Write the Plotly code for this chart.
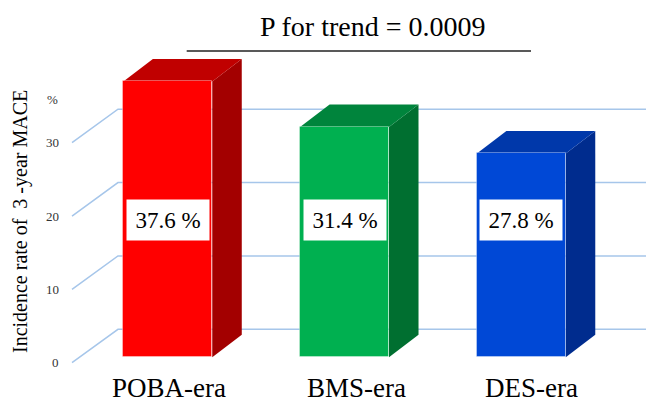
import plotly.graph_objects as go

# --- data -------------------------------------------------------------
eras = ["POBA-era", "BMS-era", "DES-era"]
mace_rate = [37.6, 31.4, 27.8]          # 3-year MACE incidence, %
y_ticks = [0, 10, 20, 30]
p_trend_text = "P for trend = 0.0009"

# --- styling ----------------------------------------------------------
front_col = ["#FF0000", "#00B050", "#0048D6"]
side_col = ["#A30000", "#006F30", "#002C8E"]
top_col = ["#C00000", "#00843C", "#0038AA"]
grid_col = "#A6C6EA"
serif = "Liberation Serif"

W, H = 646, 402
X_RANGE = [-0.9494, 2.7055]
Y_RANGE = [-6.094, 48.71]
BAR_W = 0.503
DX, DY = 0.167, 3.06            # oblique depth offset of each column
WALL_FRONT_X, WALL_BACK_X = -0.542, -0.282
GRID_FRONT_DY, GRID_BACK_DY = -0.74, 3.82
LABEL_Y = 18.7
CAT_SHIFT_PX = [1, 12, 10]      # category captions sit slightly right of centre

xs = list(range(len(eras)))

fig = go.Figure()

# front faces of the columns
fig.add_trace(go.Bar(
    x=xs, y=mace_rate, width=BAR_W,
    marker=dict(color=front_col, line=dict(color="rgba(255,255,255,0.35)", width=1)),
    hoverinfo="skip", showlegend=False,
))

shapes = []
# back-wall gridlines with their diagonal run along the left wall
for t in y_ticks:
    path = (f"M {WALL_FRONT_X},{t + GRID_FRONT_DY} "
            f"L {WALL_BACK_X},{t + GRID_BACK_DY} "
            f"L {X_RANGE[1]},{t + GRID_BACK_DY}")
    shapes.append(dict(type="path", path=path, xref="x", yref="y",
                       line=dict(color=grid_col, width=1.5), layer="below"))

# side and top faces of each column
for x, v, sc, tc in zip(xs, mace_rate, side_col, top_col):
    xl, xr = x - BAR_W / 2, x + BAR_W / 2
    side = (f"M {xr},0 L {xr + DX},{DY} L {xr + DX},{v + DY} L {xr},{v} Z")
    top = (f"M {xl},{v} L {xl + DX},{v + DY} L {xr + DX},{v + DY} L {xr},{v} Z")
    shapes.append(dict(type="path", path=side, xref="x", yref="y",
                       fillcolor=sc, line=dict(width=0), layer="below"))
    shapes.append(dict(type="path", path=top, xref="x", yref="y",
                       fillcolor=tc, line=dict(width=0), layer="below"))

# underline of the trend p-value
shapes.append(dict(type="line", xref="paper", yref="paper",
                   x0=0.289, x1=0.822, y0=1 - 51 / H, y1=1 - 51 / H,
                   line=dict(color="#222222", width=1.3)))

annotations = []
# value boxes
for x, v in zip(xs, mace_rate):
    annotations.append(dict(
        x=x, y=LABEL_Y, xref="x", yref="y", text=f"{v} %", showarrow=False,
        font=dict(family=serif, size=23, color="black"),
        bgcolor="white", borderpad=6, width=70, height=28,
    ))
# category labels
for x, name, sh in zip(xs, eras, CAT_SHIFT_PX):
    annotations.append(dict(
        x=x, y=-4.15, xref="x", yref="y", text=name, showarrow=False,
        xshift=sh, font=dict(family=serif, size=27, color="black"),
    ))
# y tick labels on the front edge of the wall
for t in y_ticks:
    annotations.append(dict(
        x=-0.604, y=t + GRID_FRONT_DY, xref="x", yref="y", text=str(t),
        showarrow=False, xanchor="right", yanchor="middle",
        font=dict(family=serif, size=13, color="#333333"),
    ))
annotations.append(dict(
    x=52 / W, y=1 - 100 / H, xref="paper", yref="paper", text="%",
    showarrow=False, xanchor="center", yanchor="middle",
    font=dict(family=serif, size=13, color="#333333"),
))
# axis title
annotations.append(dict(
    x=20 / W, y=1 - 222 / H, xref="paper", yref="paper",
    text="Incidence rate of  3 -year MACE", textangle=-90, showarrow=False,
    xanchor="center", yanchor="middle",
    font=dict(family=serif, size=20, color="black"),
))
# trend test
annotations.append(dict(
    x=373 / W, y=1 - 26 / H, xref="paper", yref="paper", text=p_trend_text,
    showarrow=False, xanchor="center", yanchor="middle",
    font=dict(family=serif, size=28, color="black"),
))

fig.update_layout(
    width=W, height=H, margin=dict(l=0, r=0, t=0, b=0),
    paper_bgcolor="white", plot_bgcolor="white",
    xaxis=dict(range=X_RANGE, visible=False, fixedrange=True),
    yaxis=dict(range=Y_RANGE, visible=False, fixedrange=True),
    shapes=shapes, annotations=annotations, bargap=0,
)

fig.write_html("out.html")
